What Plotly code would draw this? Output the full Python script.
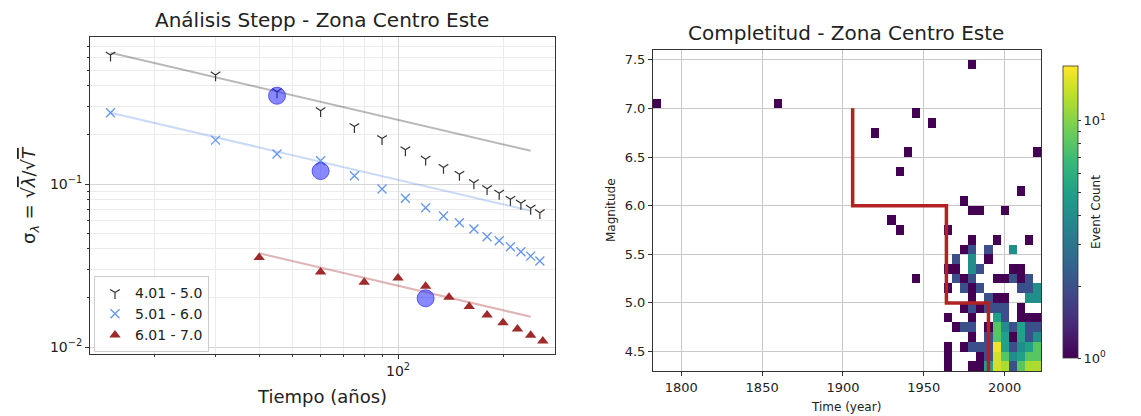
import numpy as np
import plotly.graph_objs as go

# ---- Stepp analysis data (T in years, sigma = sqrt(lambda)/sqrt(T))
t_m4 = [15, 30, 45, 60, 75, 90, 105, 120, 135, 150, 165, 180, 195, 210, 225, 240, 255]
s_m4 = [0.618, 0.467, 0.368, 0.282, 0.225, 0.190, 0.162, 0.142, 0.1265, 0.1146, 0.1018,
        0.0936, 0.0877, 0.0805, 0.0762, 0.0710, 0.0667]
t_m5 = [15, 30, 45, 60, 75, 90, 105, 120, 135, 150, 165, 180, 195, 210, 225, 240, 255]
s_m5 = [0.274, 0.186, 0.153, 0.139, 0.1124, 0.0932, 0.0817, 0.0716, 0.0637, 0.0579, 0.0530,
        0.0475, 0.0449, 0.0412, 0.0384, 0.0361, 0.0337]
t_m6 = [40, 60, 80, 100, 120, 140, 160, 180, 200, 220, 240, 260]
s_m6 = [0.0354, 0.0289, 0.0250, 0.0265, 0.0236, 0.0202, 0.0177, 0.0157, 0.0141, 0.0129,
        0.0118, 0.0109]
labels = ["4.01 - 5.0", "5.01 - 6.0", "6.01 - 7.0"]

# fitted 1/sqrt(T) lines (end points)
fit_t_m4 = [15, 240]
fit_s_m4 = [0.639, 0.160]
fit_t_m5 = [15, 240]
fit_s_m5 = [0.274, 0.0685]
fit_t_m6 = [40, 240]
fit_s_m6 = [0.0376, 0.01535]

# completeness points
comp_t = [45, 60, 120]
comp_s = [0.348, 0.120, 0.0199]

# ---- completeness heatmap: {magnitude bin centre: {year bin centre: count}}
cells = {
    7.45: {1980: 1},
    7.05: {1785: 1, 1860: 1},
    6.95: {1945: 1},
    6.85: {1955: 1},
    6.75: {1920: 1},
    6.55: {1940: 1, 2020: 1},
    6.35: {1935: 1},
    6.15: {2010: 1},
    6.05: {1975: 1},
    5.95: {1980: 1, 1985: 1, 2000: 1},
    5.85: {1930: 1},
    5.75: {1935: 1, 1965: 1},
    5.65: {1980: 1, 1995: 1, 2015: 1},
    5.55: {1975: 1, 1980: 2, 1990: 2, 2005: 4},
    5.45: {1970: 2, 1980: 4, 1990: 1},
    5.35: {1965: 1, 1970: 1, 1980: 4, 1985: 2, 2005: 1, 2010: 1},
    5.25: {1945: 1, 1970: 2, 1975: 1, 1980: 2, 1995: 1, 2000: 1, 2005: 2, 2010: 1, 2015: 2},
    5.15: {1965: 1, 1975: 2, 1980: 1, 1985: 2, 2010: 2, 2015: 2, 2020: 4},
    5.05: {1980: 1, 1990: 2, 1995: 1, 2000: 1, 2015: 4, 2020: 4},
    4.95: {1975: 1, 1980: 2, 1985: 1, 1990: 2, 1995: 2, 2000: 2, 2010: 1},
    4.85: {1965: 1, 1980: 1, 1995: 5, 2000: 2, 2010: 1, 2015: 1, 2020: 1},
    4.75: {1970: 1, 1975: 2, 1980: 2, 1990: 1, 1995: 8, 2000: 4, 2005: 2, 2010: 5, 2015: 2, 2020: 2},
    4.65: {1980: 1, 1990: 2, 1995: 8, 2000: 5, 2005: 1, 2010: 5, 2015: 2, 2020: 4},
    4.55: {1965: 1, 1975: 1, 1980: 2, 1985: 2, 1990: 2, 1995: 16, 2000: 5, 2005: 2, 2010: 4,
           2015: 5, 2020: 8},
    4.45: {1965: 1, 1985: 1, 1990: 2, 1995: 14, 2000: 8, 2005: 4, 2010: 5, 2015: 8, 2020: 8},
    4.35: {1965: 1, 1980: 1, 1985: 1, 1990: 5, 1995: 14, 2000: 12, 2005: 2, 2010: 8, 2015: 12,
           2020: 12},
}
year_centres = list(range(1785, 2021, 5))
mag_centres = [round(4.35 + 0.1 * i, 2) for i in range(33)]
count_max = 17

# completeness step line
comp_years = [1906, 1906, 1964, 1964, 1990, 1990]
comp_mags = [7.0, 6.0, 6.0, 5.0, 5.0, 4.3]

# ticks
x_left_ticks = [100]
x_left_text = ["10<sup>2</sup>"]
x_left_minor = [20, 30, 40, 50, 60, 70, 80, 90, 200]
y_left_ticks = [0.01, 0.1]
y_left_text = ["10<sup>−2</sup>", "10<sup>−1</sup>"]
y_left_minor = [0.02, 0.03, 0.04, 0.05, 0.06, 0.07, 0.08, 0.09, 0.2, 0.3, 0.4, 0.5, 0.6, 0.7]

FONT = "DejaVu Sans"
W, H = 1141, 416

z = np.full((len(mag_centres), len(year_centres)), np.nan)
for m, row in cells.items():
    for yr, c in row.items():
        z[mag_centres.index(m), year_centres.index(yr)] = np.log10(c)

fig = go.Figure()

# fitted lines
fig.add_trace(go.Scatter(x=fit_t_m4, y=fit_s_m4, mode="lines", showlegend=False,
                         line=dict(color="rgba(0,0,0,0.28)", width=2), xaxis="x", yaxis="y"))
fig.add_trace(go.Scatter(x=fit_t_m5, y=fit_s_m5, mode="lines", showlegend=False,
                         line=dict(color="rgba(100,149,237,0.35)", width=2), xaxis="x", yaxis="y"))
fig.add_trace(go.Scatter(x=fit_t_m6, y=fit_s_m6, mode="lines", showlegend=False,
                         line=dict(color="rgba(165,42,42,0.35)", width=2), xaxis="x", yaxis="y"))

fig.add_trace(go.Scatter(x=t_m4, y=s_m4, mode="markers", name=labels[0],
                         marker=dict(symbol="y-down", size=8, color="#333",
                                     line=dict(color="#333", width=1.2)),
                         xaxis="x", yaxis="y"))
fig.add_trace(go.Scatter(x=t_m5, y=s_m5, mode="markers", name=labels[1],
                         marker=dict(symbol="x-thin", size=9, color="cornflowerblue",
                                     line=dict(color="cornflowerblue", width=1.3)),
                         xaxis="x", yaxis="y"))
fig.add_trace(go.Scatter(x=t_m6, y=s_m6, mode="markers", name=labels[2],
                         marker=dict(symbol="triangle-up", size=10, color="#9e2a2a"),
                         xaxis="x", yaxis="y"))
fig.add_trace(go.Scatter(x=comp_t, y=comp_s, mode="markers", showlegend=False,
                         marker=dict(size=17, color="rgba(40,40,255,0.55)",
                                     line=dict(color="rgba(40,40,255,0.7)", width=1)),
                         xaxis="x", yaxis="y"))

# heatmap
fig.add_trace(go.Heatmap(
    x=year_centres, y=mag_centres, z=z, zmin=0, zmax=np.log10(count_max),
    colorscale="Viridis", xaxis="x2", yaxis="y2", hoverongaps=False,
    colorbar=dict(x=1063 / W, xanchor="left", xpad=0, y=1 - 212 / H, yanchor="middle",
                  ypad=0, len=292 / H, lenmode="fraction", thickness=15, outlinewidth=0.8,
                  outlinecolor="#333",
                  tickvals=[0, 1] + [float(np.log10(v)) for v in range(2, 10)],
                  ticktext=["10<sup>0</sup>", "10<sup>1</sup>"] + [""] * 8,
                  ticks="outside", ticklen=3, tickcolor="#333",
                  tickfont=dict(family=FONT, size=13, color="#222"),
                  title=dict(text="Event Count", side="right",
                             font=dict(family=FONT, size=12, color="#222")))))
fig.add_trace(go.Scatter(x=comp_years, y=comp_mags, mode="lines", showlegend=False,
                         line=dict(color="#b22222", width=3.5), xaxis="x2", yaxis="y2"))

axis_common = dict(showline=True, linecolor="#333", linewidth=1, mirror=True,
                   ticks="outside", ticklen=4, tickcolor="#333", zeroline=False)

fig.update_layout(
    width=W, height=H, margin=dict(l=0, r=0, t=0, b=0),
    paper_bgcolor="white", plot_bgcolor="white",
    font=dict(family=FONT, color="#222"),
    xaxis=dict(type="log", domain=[90 / W, 555 / W],
               range=[np.log10(13.1), np.log10(281.8)],
               tickvals=x_left_ticks, ticktext=x_left_text,
               tickfont=dict(size=14), gridcolor="#d6d6d6",
               minor=dict(tickvals=x_left_minor, ticks="outside", ticklen=2,
                          tickcolor="#333", showgrid=True, gridcolor="#ebebeb"),
               anchor="y", **axis_common),
    yaxis=dict(type="log", domain=[1 - 354 / H, 1 - 37 / H],
               range=[np.log10(0.00906), np.log10(0.798)],
               tickvals=y_left_ticks, ticktext=y_left_text,
               tickfont=dict(size=14), gridcolor="#d6d6d6",
               minor=dict(tickvals=y_left_minor, ticks="outside", ticklen=2,
                          tickcolor="#333", showgrid=True, gridcolor="#ebebeb"),
               anchor="x", **axis_common),
    xaxis2=dict(domain=[653 / W, 1041 / W], range=[1782.5, 2022.5],
                tickvals=[1800, 1850, 1900, 1950, 2000], tickfont=dict(size=13),
                gridcolor="#c8c8c8", anchor="y2", **axis_common),
    yaxis2=dict(domain=[1 - 371 / H, 1 - 50 / H], range=[4.3, 7.6],
                tickvals=[4.5, 5.0, 5.5, 6.0, 6.5, 7.0, 7.5],
                ticktext=["4.5", "5.0", "5.5", "6.0", "6.5", "7.0", "7.5"],
                tickfont=dict(size=13), gridcolor="#c8c8c8", anchor="x2", **axis_common),
    legend=dict(x=94 / W, y=1 - 276 / H, xanchor="left", yanchor="top",
                bgcolor="rgba(255,255,255,0.85)", bordercolor="#cccccc", borderwidth=1,
                font=dict(family=FONT, size=14, color="#222"), itemwidth=30,
                tracegroupgap=0),
)

annotations = [
    dict(text="Análisis Stepp - Zona Centro Este", x=322 / W, y=1 - 20 / H,
         font=dict(size=20)),
    dict(text="Completitud - Zona Centro Este", x=846 / W, y=1 - 33 / H,
         font=dict(size=20)),
    dict(text="Tiempo (años)", x=322 / W, y=1 - 396 / H, font=dict(size=18)),
    dict(text="Time (year)", x=846 / W, y=1 - 407 / H, font=dict(size=12)),
    dict(text="Magnitude", x=611 / W, y=1 - 210 / H, font=dict(size=12), textangle=-90),
    dict(text='σ<sub><i>λ</i></sub> = √<span style="text-decoration:overline"><i>λ</i></span>'
              '/√<span style="text-decoration:overline"><i>T</i></span>',
         x=30 / W, y=1 - 195 / H, font=dict(size=18), textangle=-90),
]
for a in annotations:
    a.update(xref="paper", yref="paper", showarrow=False, xanchor="center", yanchor="middle")
    a["font"] = dict(family=FONT, color="#222", **a["font"])
fig.update_layout(annotations=annotations)

# drop the browser's default 8px body margin so the figure sits at the page origin
fig.write_html("out.html", config={"displayModeBar": False},
               post_script="document.body.style.margin = '0';")
